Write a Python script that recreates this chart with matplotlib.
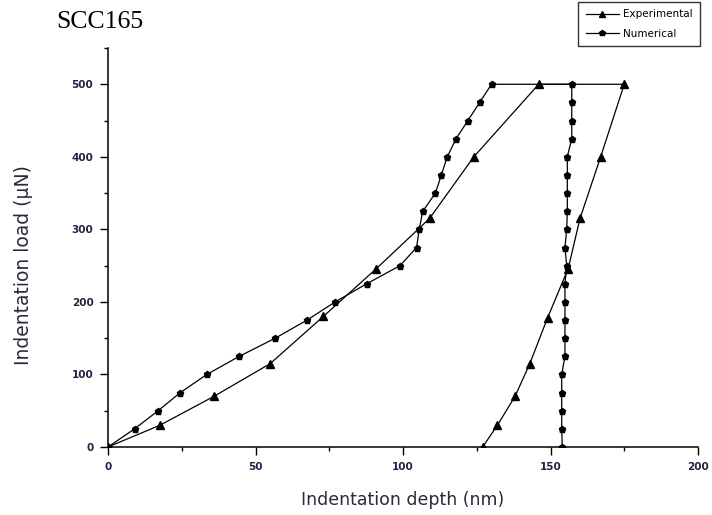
import matplotlib
matplotlib.use("Agg")
import matplotlib.pyplot as plt
from matplotlib.ticker import MultipleLocator

# Experimental (triangles): loading then unloading
exp_depth = [0, 17.6, 36, 55, 73, 91, 109, 124, 146, 175, 167, 160, 156, 149, 143, 138, 132, 127]
exp_load = [0, 30, 70, 115, 180, 246, 315, 400, 500, 500, 400, 315, 246, 178, 115, 70, 30, 0]

# Numerical (circles): loading then unloading
num_depth = [0, 9, 17, 24.5, 33.5, 44.5, 56.7, 67.5, 77, 87.7, 99, 104.6, 105.5, 106.7,
             111, 113, 115, 118, 122, 126, 130,
             157.2, 157.2, 157.2, 157.2, 155.7, 155.7, 155.7, 155.7, 155.5, 154.9, 155.5,
             154.9, 154.9, 154.9, 154.9, 154.9, 153.8, 153.8, 153.8, 153.8, 154]
num_load = [0, 25, 50, 75, 100, 125, 150, 175, 200, 225, 250, 275, 300, 325,
            350, 375, 400, 425, 450, 475, 500,
            500, 475, 450, 425, 400, 375, 350, 325, 300, 275, 250,
            225, 200, 175, 150, 125, 100, 75, 50, 25, 0]

x_ticks = [0, 50, 100, 150, 200]
y_ticks = [0, 100, 200, 300, 400, 500]

fig = plt.figure(figsize=(7.12, 5.15), dpi=100)
ax = fig.add_axes([108/712, 1 - 447/515, (698-108)/712, (447-48)/515])

ax.plot(exp_depth, exp_load, color="black", lw=0.9, marker="^", markersize=5.8,
        label="Experimental")
ax.plot(num_depth, num_load, color="black", lw=0.9, marker="p", markersize=5.0,
        label="Numerical")

ax.set_xlim(0, 200)
ax.set_ylim(0, 550)
ax.set_xticks(x_ticks)
ax.set_yticks(y_ticks)
ax.xaxis.set_minor_locator(MultipleLocator(25))
ax.yaxis.set_minor_locator(MultipleLocator(50))

for s in ["top", "right"]:
    ax.spines[s].set_visible(False)
for s in ["left", "bottom"]:
    ax.spines[s].set_linewidth(1.1)

ax.tick_params(which="major", direction="out", length=5.5, width=1.0,
               labelsize=7.5, labelcolor="#222244")
ax.tick_params(axis="y", which="major", pad=5)
ax.tick_params(axis="x", which="major", pad=5)
ax.tick_params(which="minor", direction="out", length=3, width=1.0)
for lab in ax.get_xticklabels() + ax.get_yticklabels():
    lab.set_fontweight("bold")
    lab.set_family("DejaVu Sans")

ax.set_xlabel("Indentation depth (nm)", fontsize=12.5, family="DejaVu Sans",
              color="#2a2a3a")
ax.xaxis.set_label_coords(0.5, (447 - 491) / 399)
ax.set_ylabel("Indentation load (μN)", fontsize=13.5, family="DejaVu Sans",
              color="#2a2a3a")
ax.yaxis.set_label_coords((33 - 108) / 590, (447 - 265.5) / 399)

fig.text(56/712, 1 - 22/515, "SCC165", family="Liberation Serif", fontsize=18.5,
         va="center", ha="left")

leg = fig.legend(loc="upper right", bbox_to_anchor=(700/712, 1 - 2/515),
                 fontsize=7.5, frameon=True, fancybox=False, shadow=False,
                 handlelength=3.2, borderpad=0.7, labelspacing=0.9,
                 handletextpad=0.4, markerscale=0.85, borderaxespad=0.0)
leg.get_frame().set_edgecolor("black")
leg.get_frame().set_linewidth(1.0)

fig.savefig("out.png", dpi=100)
